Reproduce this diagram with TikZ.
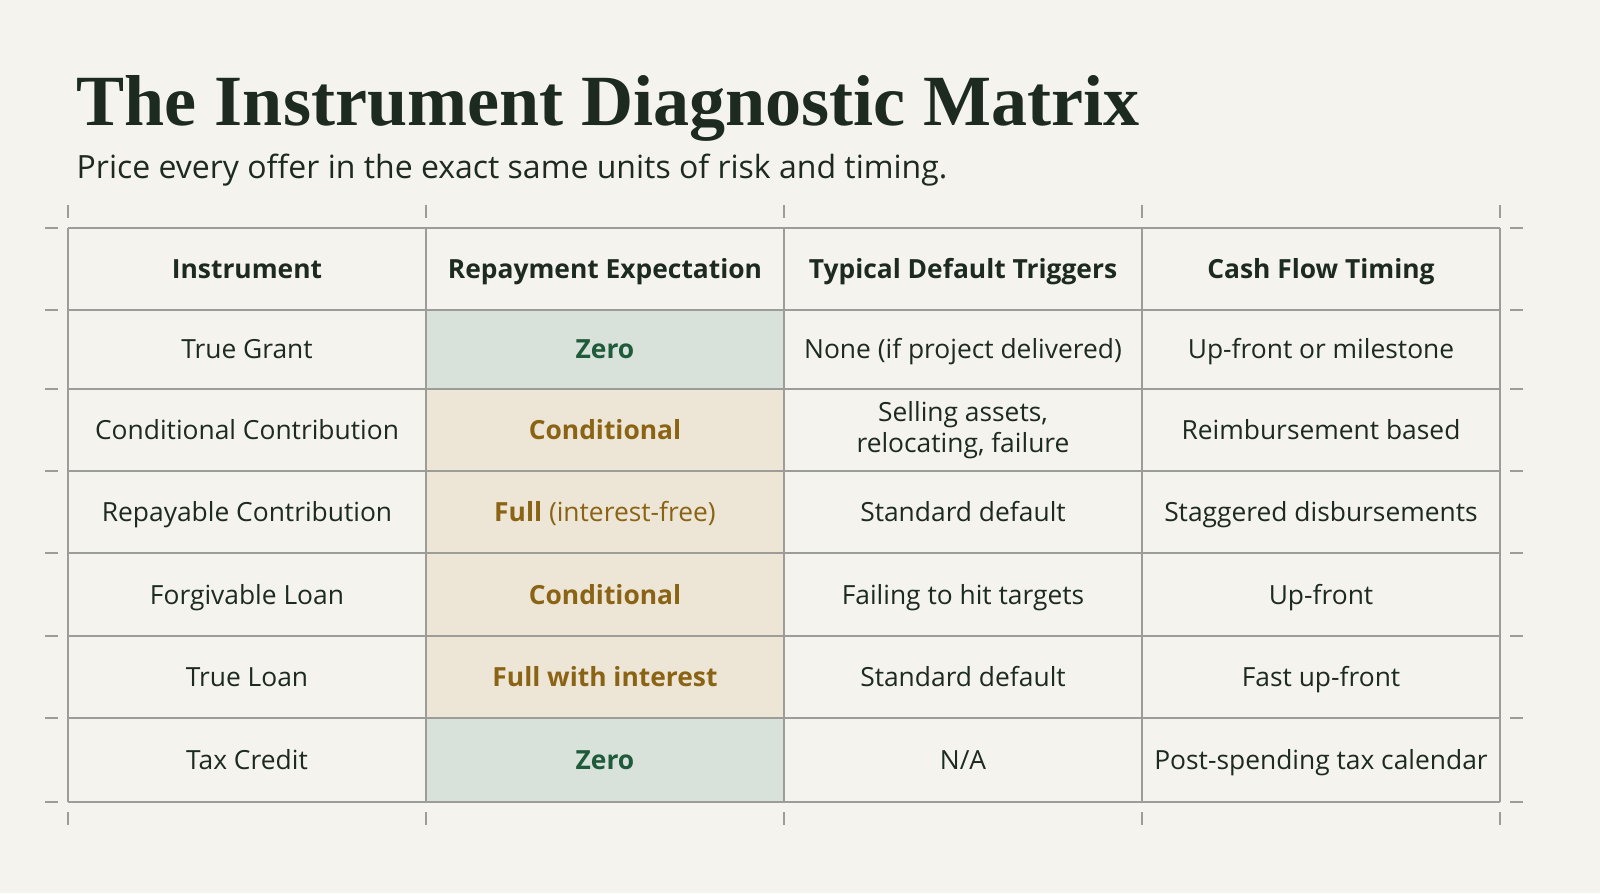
\documentclass[tikz,border=0pt]{standalone}
\usepackage{fontspec}
\setmainfont{Liberation Serif}
\setsansfont{Open Sans}
\definecolor{paper}{HTML}{F5F3EE}
\definecolor{ink}{HTML}{1C2A20}
\definecolor{rule}{HTML}{9C9C98}
\definecolor{sage}{HTML}{D8E1DA}
\definecolor{sand}{HTML}{EDE5D5}
\definecolor{leaf}{HTML}{1F5A3A}
\definecolor{ochre}{HTML}{8A6414}
\tikzset{
  cell/.style={font=\sffamily\fontsize{7.5}{9}\selectfont, text=ink, align=center},
  one/.style={text height=1.6ex, text depth=0.45ex},
  head/.style={cell, one, font=\sffamily\bfseries\fontsize{7.5}{9}\selectfont},
  zero/.style={cell, one, font=\sffamily\bfseries\fontsize{7.5}{9}\selectfont, text=leaf},
  cond/.style={cell, one, font=\sffamily\bfseries\fontsize{7.5}{9}\selectfont, text=ochre},
  grid line/.style={draw=rule, line width=0.5pt},
  tick/.style={draw=rule, line width=0.4pt}
}
\begin{document}
\begin{tikzpicture}[x=0.01cm,y=-0.01cm]
\useasboundingbox (0,0) rectangle (1600,893);
\fill[paper] (0,0) rectangle (1600,893);

% title
\node[anchor=base west, inner sep=0, text=ink, font=\bfseries\fontsize{20.5}{24}\selectfont] (title) at (76,125) {The Instrument Diagnostic Matrix};
\node[anchor=base west, inner sep=0, text=ink, font=\sffamily\fontsize{9.1}{11}\selectfont] (sub) at (76,178) {Price every offer in the exact same units of risk and timing.};

% shaded column
\fill[sage] (426,310) rectangle (784,389);
\fill[sand] (426,389) rectangle (784,718);
\fill[sage] (426,718) rectangle (784,802);

% grid
\foreach \x in {68,426,784,1142,1500} {
  \draw[grid line] (\x,228) -- (\x,802);
  \draw[tick] (\x,205) -- (\x,218);
  \draw[tick] (\x,812) -- (\x,825);
}
\foreach \y in {228,310,389,471,553,636,718,802} {
  \draw[grid line] (68,\y) -- (1500,\y);
  \draw[tick] (45,\y) -- (58,\y);
  \draw[tick] (1510,\y) -- (1523,\y);
}

% header
\node[head] (h1) at (247,269) {Instrument};
\node[head] (h2) at (605,269) {Repayment Expectation};
\node[head] (h3) at (963,269) {Typical Default Triggers};
\node[head] (h4) at (1321,269) {Cash Flow Timing};

% rows
\node[cell,one] (a1) at (247,349) {True Grant};
\node[zero] (b1) at (605,349) {Zero};
\node[cell,one] (c1) at (963,349) {None (if project delivered)};
\node[cell,one] (d1) at (1321,349) {Up-front or milestone};

\node[cell,one] (a2) at (247,430) {Conditional Contribution};
\node[cond] (b2) at (605,430) {Conditional};
\node[cell] (c2) at (963,430) {Selling assets,\\relocating, failure};
\node[cell,one] (d2) at (1321,430) {Reimbursement based};

\node[cell,one] (a3) at (247,512) {Repayable Contribution};
\node[cond] (b3) at (605,512) {Full \textmd{(interest-free)}};
\node[cell,one] (c3) at (963,512) {Standard default};
\node[cell,one] (d3) at (1321,512) {Staggered disbursements};

\node[cell,one] (a4) at (247,595) {Forgivable Loan};
\node[cond] (b4) at (605,595) {Conditional};
\node[cell,one] (c4) at (963,595) {Failing to hit targets};
\node[cell,one] (d4) at (1321,595) {Up-front};

\node[cell,one] (a5) at (247,677) {True Loan};
\node[cond] (b5) at (605,677) {Full with interest};
\node[cell,one] (c5) at (963,677) {Standard default};
\node[cell,one] (d5) at (1321,677) {Fast up-front};

\node[cell,one] (a6) at (247,760) {Tax Credit};
\node[zero] (b6) at (605,760) {Zero};
\node[cell,one] (c6) at (963,760) {N/A};
\node[cell,one] (d6) at (1321,760) {Post-spending tax calendar};
\end{tikzpicture}
\end{document}
